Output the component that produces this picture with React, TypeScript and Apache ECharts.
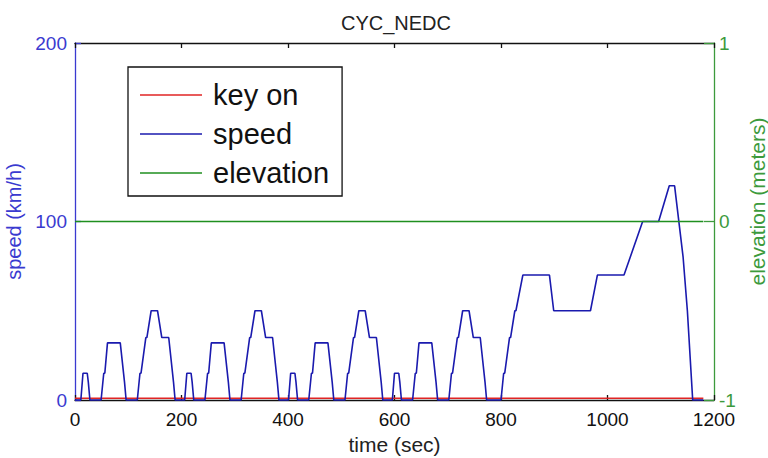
import React, { useEffect, useRef } from "react";
import * as echarts from "echarts";

// NEDC drive cycle: four urban ECE-15 cycles followed by the extra-urban EUDC part
const timeSec = [
  0, 11, 15, 23, 25, 28, 49, 54, 56, 61, 85, 93, 96, 117, 122, 124, 133, 135, 143, 155, 163, 176, 185, 188,
  195, 206, 210, 218, 220, 223, 244, 249, 251, 256, 280, 288, 291, 312, 317, 319, 328, 330, 338, 350, 358, 371, 380, 383,
  390, 401, 405, 413, 415, 418, 439, 444, 446, 451, 475, 483, 486, 507, 512, 514, 523, 525, 533, 545, 553, 566, 575, 578,
  585, 596, 600, 608, 610, 613, 634, 639, 641, 646, 670, 678, 681, 702, 707, 709, 718, 720, 728, 740, 748, 761, 770, 773,
  780, 800, 805, 807, 816, 818, 826, 828, 841, 891, 899, 968, 981, 1031, 1066, 1096, 1116, 1126, 1142, 1150, 1160, 1180,
];
const speedKmh = [
  0, 0, 15, 15, 10, 0, 0, 15, 15, 32, 32, 10, 0, 0, 15, 15, 35, 35, 50, 50, 35, 35, 10, 0,
  0, 0, 15, 15, 10, 0, 0, 15, 15, 32, 32, 10, 0, 0, 15, 15, 35, 35, 50, 50, 35, 35, 10, 0,
  0, 0, 15, 15, 10, 0, 0, 15, 15, 32, 32, 10, 0, 0, 15, 15, 35, 35, 50, 50, 35, 35, 10, 0,
  0, 0, 15, 15, 10, 0, 0, 15, 15, 32, 32, 10, 0, 0, 15, 15, 35, 35, 50, 50, 35, 35, 10, 0,
  0, 0, 15, 15, 35, 35, 50, 50, 70, 70, 50, 50, 70, 70, 100, 100, 120, 120, 80, 50, 0, 0,
];

const keyOnTime = [0, 1180];
const keyOnValue = [1, 1];
const elevationTime = [0, 1180];
const elevationMeters = [0, 0];

const timeTicks = [0, 200, 400, 600, 800, 1000, 1200];
const speedTicks = [0, 100, 200];
const elevationTicks = [-1, 0, 1];

const FONT = "'Liberation Sans', Arial, sans-serif";
const BLUE = "#1a1aae";
const BLUE_AXIS = "#3a3ad0";
const RED = "#e02424";
const GREEN = "#1f8f1f";
const GREEN_AXIS = "#3c9a3c";

const zip = (xs: number[], ys: number[]) => xs.map((x, i) => [x, ys[i]]);

export default function App() {
  const ref = useRef<HTMLDivElement>(null);

  useEffect(() => {
    if (!ref.current) return;
    const chart = echarts.init(ref.current, undefined, { renderer: "svg" });

    chart.setOption({
      animation: false,
      backgroundColor: "#ffffff",
      textStyle: { fontFamily: FONT },
      title: {
        text: "CYC_NEDC",
        left: 391,
        textAlign: "center",
        top: 8,
        textStyle: { fontFamily: FONT, fontSize: 20, fontWeight: "normal", color: "#222" },
      },
      legend: {
        orient: "vertical",
        left: 128,
        top: 67,
        padding: [13, 13, 8, 12],
        itemGap: 9,
        itemWidth: 62,
        itemHeight: 1.6,
        icon: "rect",
        backgroundColor: "#ffffff",
        borderColor: "#111",
        borderWidth: 1.3,
        borderRadius: 0,
        z: 10,
        textStyle: { fontFamily: FONT, fontSize: 29, color: "#111", lineHeight: 30, padding: [0, 0, 0, 6] },
        data: ["key on", "speed", "elevation"],
      },
      grid: { left: 75, right: 54, top: 43, bottom: 58, containLabel: false, outerBoundsMode: "none" },
      xAxis: [
        {
          type: "value",
          position: "bottom",
          min: timeTicks[0],
          max: timeTicks[timeTicks.length - 1],
          interval: 200,
          name: "time (sec)",
          nameLocation: "middle",
          nameGap: 34,
          nameTextStyle: { fontFamily: FONT, fontSize: 21, color: "#222" },
          axisLine: { show: true, onZero: false, lineStyle: { color: "#111", width: 1.3 } },
          axisTick: { show: true, inside: true, length: 5, lineStyle: { color: "#111", width: 1.3 } },
          axisLabel: {
            fontFamily: FONT,
            fontSize: 19,
            color: "#111",
            margin: 10,
            formatter: (v: number) => String(v),
          },
          splitLine: { show: false },
        },
        {
          type: "value",
          position: "top",
          min: timeTicks[0],
          max: timeTicks[timeTicks.length - 1],
          interval: 200,
          axisLine: { show: true, onZero: false, lineStyle: { color: "#111", width: 1.3 } },
          axisTick: { show: true, inside: true, length: 5, lineStyle: { color: "#111", width: 1.3 } },
          axisLabel: { show: false },
          splitLine: { show: false },
        },
      ],
      yAxis: [
        {
          type: "value",
          position: "left",
          min: speedTicks[0],
          max: speedTicks[speedTicks.length - 1],
          interval: 100,
          name: "speed (km/h)",
          nameLocation: "middle",
          nameGap: 48,
          nameTextStyle: { fontFamily: FONT, fontSize: 20, color: BLUE_AXIS },
          axisLine: { show: true, onZero: false, lineStyle: { color: BLUE_AXIS, width: 1.3 } },
          axisTick: { show: true, inside: true, length: 6, lineStyle: { color: BLUE_AXIS, width: 1.3 } },
          axisLabel: { fontFamily: FONT, fontSize: 19, color: BLUE_AXIS, margin: 8, lineHeight: 17 },
          splitLine: { show: false },
        },
        {
          type: "value",
          position: "right",
          min: elevationTicks[0],
          max: elevationTicks[elevationTicks.length - 1],
          interval: 1,
          name: "elevation (meters)",
          nameLocation: "middle",
          nameGap: 26,
          nameTextStyle: { fontFamily: FONT, fontSize: 21, color: GREEN_AXIS, padding: [0, 0, 0, 40] },
          axisLine: { show: true, onZero: false, lineStyle: { color: GREEN_AXIS, width: 1.3 } },
          axisTick: { show: true, inside: true, length: 10, lineStyle: { color: GREEN_AXIS, width: 1.3 } },
          axisLabel: { fontFamily: FONT, fontSize: 19, color: GREEN_AXIS, margin: 5, lineHeight: 17 },
          splitLine: { show: false },
        },
      ],
      series: [
        {
          name: "key on",
          type: "line",
          xAxisIndex: 0,
          yAxisIndex: 0,
          data: zip(keyOnTime, keyOnValue),
          symbol: "none",
          clip: false,
          lineStyle: { color: RED, width: 1.5 },
          itemStyle: { color: RED },
        },
        {
          name: "speed",
          type: "line",
          xAxisIndex: 0,
          yAxisIndex: 0,
          data: zip(timeSec, speedKmh),
          symbol: "none",
          clip: false,
          lineStyle: { color: BLUE, width: 1.6 },
          itemStyle: { color: BLUE },
        },
        {
          name: "elevation",
          type: "line",
          xAxisIndex: 0,
          yAxisIndex: 1,
          data: zip(elevationTime, elevationMeters),
          symbol: "none",
          clip: false,
          lineStyle: { color: GREEN, width: 1.5 },
          itemStyle: { color: GREEN },
        },
      ],
    });

    return () => chart.dispose();
  }, []);

  return (
    <div
      ref={ref}
      style={{ position: "fixed", left: 0, top: 0, width: 768, height: 458, background: "#fff" }}
    />
  );
}
